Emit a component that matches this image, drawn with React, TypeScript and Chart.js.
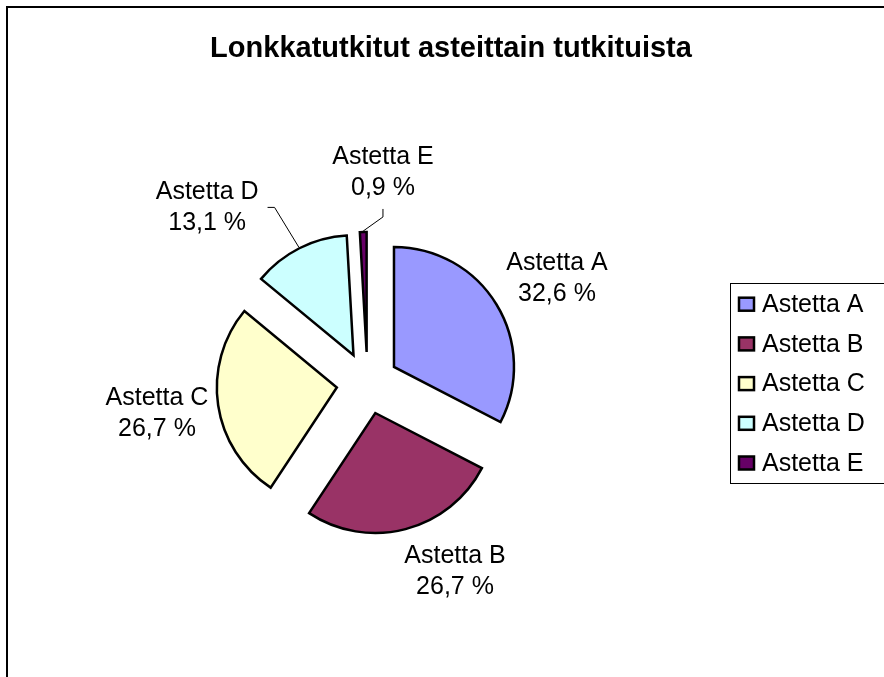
import React, { useEffect, useRef } from "react";
import { Chart, registerables } from "chart.js";

Chart.register(...registerables);

const TITLE = "Lonkkatutkitut asteittain tutkituista";
const CATEGORIES = ["Astetta A", "Astetta B", "Astetta C", "Astetta D", "Astetta E"];
const PERCENTS = [32.6, 26.7, 26.7, 13.1, 0.9];
const COLORS = ["#9999FF", "#993366", "#FFFFCC", "#CCFFFF", "#660066"];

// label layout (polar, relative to pie centre): angle clockwise from 12 o'clock, distance
const LABEL_ANGLE = [61.1, 155.1, 261.6, 317.6, 4.2];
const LABEL_DIST = [216.4, 207.8, 212.8, 237.8, 211.1];
const LEADER = ["", "", "", "right", "bottom"];

const EXPLODE = 31;
const FONT = "'Liberation Sans', Arial, sans-serif";

const W = 884;
const H = 677;

const fmt = (v: number) => v.toFixed(1).replace(".", ",") + " %";

const piePlugin = {
  id: "explodedPie",
  beforeDraw(chart: any) {
    const ctx = chart.ctx;
    ctx.save();
    ctx.fillStyle = "#fff";
    ctx.fillRect(0, 0, chart.width, chart.height);
    // outer frame
    ctx.strokeStyle = "#000";
    ctx.lineWidth = 2;
    ctx.strokeRect(7, 7, 1000, 1000);
    // title
    ctx.fillStyle = "#000";
    ctx.font = `bold 29px ${FONT}`;
    ctx.textAlign = "center";
    ctx.textBaseline = "alphabetic";
    ctx.fillText(TITLE, 451, 57);
    ctx.restore();
  },
  beforeDatasetDraw(chart: any, args: any) {
    const ctx = chart.ctx;
    const meta = args.meta;
    meta.data.forEach((arc: any) => {
      const mid = (arc.startAngle + arc.endAngle) / 2;
      ctx.save();
      ctx.translate(Math.cos(mid) * EXPLODE, Math.sin(mid) * EXPLODE);
      arc.draw(ctx);
      ctx.restore();
    });
    return false;
  },
  afterDatasetsDraw(chart: any) {
    const ctx = chart.ctx;
    const meta = chart.getDatasetMeta(0);
    ctx.save();
    ctx.font = `25px ${FONT}`;
    ctx.fillStyle = "#000";
    ctx.strokeStyle = "#000";
    ctx.textAlign = "center";
    ctx.textBaseline = "middle";
    meta.data.forEach((arc: any, i: number) => {
      const cx = arc.x;
      const cy = arc.y;
      const th = (LABEL_ANGLE[i] * Math.PI) / 180;
      const lx = cx + LABEL_DIST[i] * Math.sin(th);
      const ly = cy - LABEL_DIST[i] * Math.cos(th);
      const l1 = CATEGORIES[i];
      const l2 = fmt(PERCENTS[i]);
      ctx.fillText(l1, lx, ly - 15.5);
      ctx.fillText(l2, lx, ly + 15.5);
      if (LEADER[i]) {
        const mid = (arc.startAngle + arc.endAngle) / 2;
        const r = arc.outerRadius + 1;
        const ex = cx + Math.cos(mid) * (EXPLODE + r);
        const ey = cy + Math.sin(mid) * (EXPLODE + r);
        const hw = Math.max(ctx.measureText(l1).width, ctx.measureText(l2).width) / 2;
        let sx: number, sy: number, mx: number, my: number;
        if (LEADER[i] === "right") {
          sx = lx + hw + 9;
          sy = ly;
          mx = sx + 7;
          my = sy;
        } else {
          sx = lx;
          sy = ly + 36.5;
          mx = sx;
          my = sy + 8;
        }
        ctx.lineWidth = 1;
        ctx.beginPath();
        ctx.moveTo(sx, sy);
        ctx.lineTo(mx, my);
        ctx.lineTo(ex, ey);
        ctx.stroke();
      }
    });

    // legend
    ctx.lineWidth = 1;
    ctx.strokeRect(730.5, 283.5, 400, 200);
    ctx.textAlign = "left";
    ctx.textBaseline = "middle";
    CATEGORIES.forEach((c, i) => {
      const yc = 304.2 + i * 39.7;
      ctx.fillStyle = COLORS[i];
      ctx.fillRect(739, yc - 6.5, 15, 13);
      ctx.lineWidth = 2.5;
      ctx.strokeStyle = "#000";
      ctx.strokeRect(739, yc - 6.5, 15, 13);
      ctx.fillStyle = "#000";
      ctx.fillText(c, 762, yc + 1);
    });
    ctx.restore();
  },
};

export default function App() {
  const ref = useRef<HTMLCanvasElement | null>(null);
  useEffect(() => {
    if (!ref.current) return;
    const chart = new Chart(ref.current, {
      type: "pie",
      data: {
        labels: CATEGORIES,
        datasets: [
          {
            data: PERCENTS,
            backgroundColor: COLORS,
            borderColor: "#000",
            borderWidth: 2.5,
            borderJoinStyle: "miter",
            hoverOffset: 0,
          } as any,
        ],
      },
      options: {
        responsive: false,
        animation: false,
        events: [],
        radius: 120,
        layout: { padding: { left: 100, right: 249, top: 200, bottom: 111 } },
        plugins: {
          legend: { display: false },
          title: { display: false },
          tooltip: { enabled: false },
        },
      } as any,
      plugins: [piePlugin],
    });
    return () => chart.destroy();
  }, []);
  return (
    <div style={{ position: "absolute", left: 0, top: 0, width: W, height: H }}>
      <canvas ref={ref} width={W} height={H} style={{ display: "block", width: W, height: H }} />
    </div>
  );
}
